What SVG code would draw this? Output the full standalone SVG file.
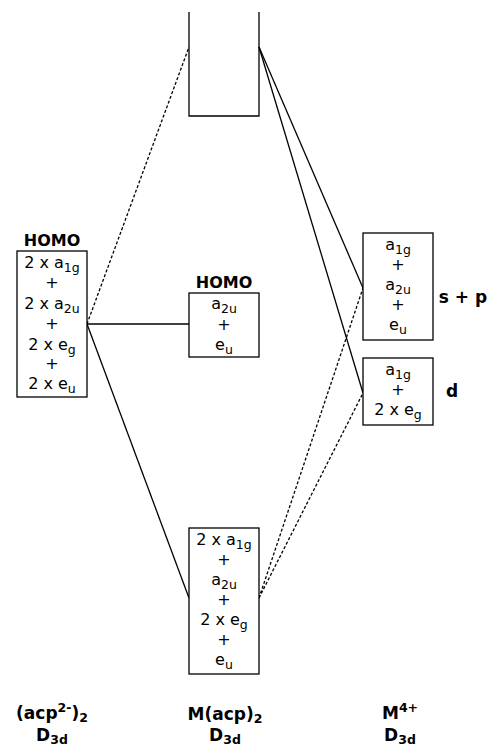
<svg xmlns="http://www.w3.org/2000/svg" width="490" height="746" viewBox="0 0 490 746">
<style>
.box{fill:#fff;stroke:#000;stroke-width:1.3}
.t{font-family:"DejaVu Sans","Verdana",sans-serif;font-size:16px;text-anchor:middle;fill:#000}
.b{font-family:"DejaVu Sans","Verdana",sans-serif;font-size:16px;font-weight:bold;text-anchor:middle;fill:#000}
.lb{font-size:17px}
.s{font-size:12.5px}
.solid{stroke:#000;stroke-width:1.3;fill:none}
.dot{stroke:#000;stroke-width:1.3;fill:none;stroke-dasharray:3 2}
</style>
<g id="connectors">
<line class="dot" x1="87" y1="324" x2="189" y2="47"/>
<line class="solid" x1="87" y1="324" x2="189" y2="324"/>
<line class="solid" x1="87" y1="324" x2="189" y2="598"/>
<line class="solid" x1="259" y1="47" x2="363" y2="288"/>
<line class="solid" x1="259" y1="47" x2="363" y2="393"/>
<line class="dot" x1="259" y1="598" x2="363" y2="288"/>
<line class="dot" x1="259" y1="598" x2="363" y2="393"/>
</g>
<g id="node-ligand">
<text class="b" x="52" y="246">HOMO</text>
<rect class="box" x="17" y="251" width="70" height="146"/>
<text class="t" x="52" y="268">2 x a<tspan class="s" dy="4">1g</tspan></text>
<text class="t" x="52" y="288">+</text>
<text class="t" x="52" y="309">2 x a<tspan class="s" dy="4">2u</tspan></text>
<text class="t" x="52" y="329">+</text>
<text class="t" x="52" y="350">2 x e<tspan class="s" dy="4">g</tspan></text>
<text class="t" x="52" y="369">+</text>
<text class="t" x="52" y="389">2 x e<tspan class="s" dy="4">u</tspan></text>
</g>
<g id="node-top">
<path class="solid" d="M189,12 V116 H259 V12"/>
</g>
<g id="node-homo">
<text class="b" x="224" y="288">HOMO</text>
<rect class="box" x="189" y="293" width="70" height="64"/>
<text class="t" x="224" y="309">a<tspan class="s" dy="4">2u</tspan></text>
<text class="t" x="224" y="330">+</text>
<text class="t" x="224" y="350">e<tspan class="s" dy="4">u</tspan></text>
</g>
<g id="node-bottom">
<rect class="box" x="189" y="528" width="70" height="146"/>
<text class="t" x="224" y="545">2 x a<tspan class="s" dy="4">1g</tspan></text>
<text class="t" x="224" y="565">+</text>
<text class="t" x="224" y="585">a<tspan class="s" dy="4">2u</tspan></text>
<text class="t" x="224" y="605">+</text>
<text class="t" x="224" y="625">2 x e<tspan class="s" dy="4">g</tspan></text>
<text class="t" x="224" y="645">+</text>
<text class="t" x="224" y="665">e<tspan class="s" dy="4">u</tspan></text>
</g>
<g id="node-sp">
<rect class="box" x="363" y="233" width="70" height="107"/>
<text class="t" x="398" y="250">a<tspan class="s" dy="4">1g</tspan></text>
<text class="t" x="398" y="270">+</text>
<text class="t" x="398" y="290">a<tspan class="s" dy="4">2u</tspan></text>
<text class="t" x="398" y="310">+</text>
<text class="t" x="398" y="330">e<tspan class="s" dy="4">u</tspan></text>
<text class="b lb" x="463" y="303">s + p</text>
</g>
<g id="node-d">
<rect class="box" x="363" y="358" width="70" height="67"/>
<text class="t" x="398" y="375">a<tspan class="s" dy="4">1g</tspan></text>
<text class="t" x="398" y="395">+</text>
<text class="t" x="398" y="415">2 x e<tspan class="s" dy="4">g</tspan></text>
<text class="b lb" x="452" y="397">d</text>
</g>
<g id="labels">
<text class="b lb" x="52" y="719">(acp<tspan class="s" dy="-7">2-</tspan><tspan dy="7">)</tspan><tspan class="s" dy="3">2</tspan></text>
<text class="b lb" x="52" y="741">D<tspan class="s" dy="3">3d</tspan></text>
<text class="b lb" x="225" y="720">M(acp)<tspan class="s" dy="3">2</tspan></text>
<text class="b lb" x="225" y="741">D<tspan class="s" dy="3">3d</tspan></text>
<text class="b lb" x="400" y="719">M<tspan class="s" dy="-7">4+</tspan></text>
<text class="b lb" x="400" y="741">D<tspan class="s" dy="3">3d</tspan></text>
</g>
</svg>
